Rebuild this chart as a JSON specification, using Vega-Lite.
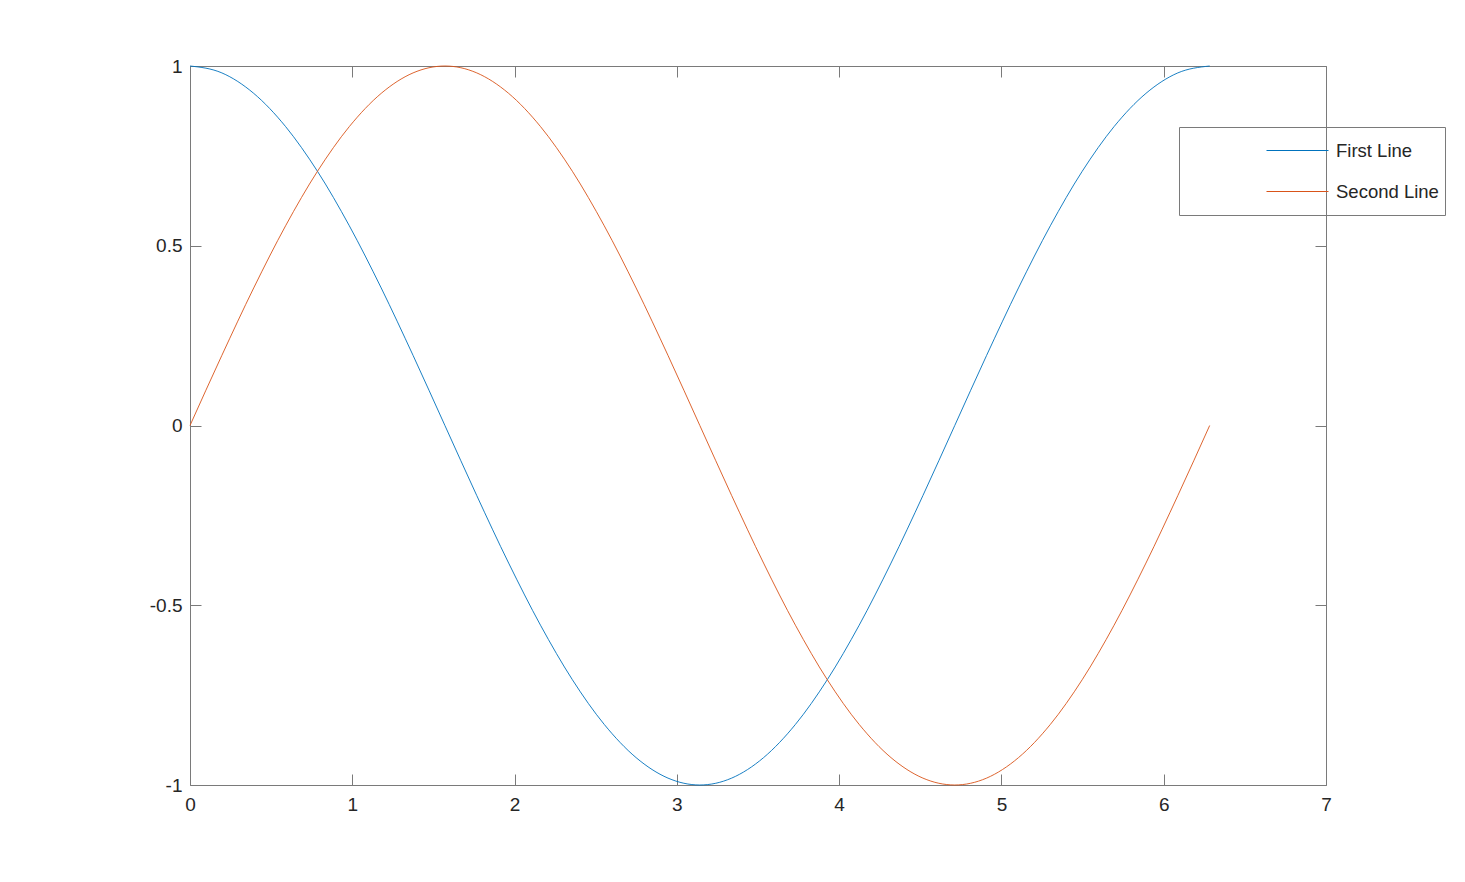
{
  "$schema": "https://vega.github.io/schema/vega-lite/v6.json",
  "autosize": {"type": "none"},
  "width": 1136,
  "height": 719,
  "padding": {"left": 190, "top": 66, "right": 139, "bottom": 97},
  "background": "white",
  "config": {
    "view": {"stroke": "#7a7a7a", "strokeWidth": 1},
    "font": "Liberation Sans",
    "axis": {
      "grid": false,
      "domain": false,
      "tickColor": "#7a7a7a",
      "tickSize": -11,
      "labelColor": "#262626",
      "labelFontSize": 19,
      "labelFont": "Liberation Sans",
      "labelFlush": false,
      "labelExpr": "datum.value + ''",
      "title": null
    }
  },
  "data": {
    "values": [
      {"x": 0, "First Line": 1, "Second Line": 0},
      {"x": 0.19635, "First Line": 0.98079, "Second Line": 0.19509},
      {"x": 0.3927, "First Line": 0.92388, "Second Line": 0.38268},
      {"x": 0.58905, "First Line": 0.83147, "Second Line": 0.55557},
      {"x": 0.7854, "First Line": 0.70711, "Second Line": 0.70711},
      {"x": 0.98175, "First Line": 0.55557, "Second Line": 0.83147},
      {"x": 1.1781, "First Line": 0.38268, "Second Line": 0.92388},
      {"x": 1.37445, "First Line": 0.19509, "Second Line": 0.98079},
      {"x": 1.5708, "First Line": 0, "Second Line": 1},
      {"x": 1.76715, "First Line": -0.19509, "Second Line": 0.98079},
      {"x": 1.9635, "First Line": -0.38268, "Second Line": 0.92388},
      {"x": 2.15984, "First Line": -0.55557, "Second Line": 0.83147},
      {"x": 2.35619, "First Line": -0.70711, "Second Line": 0.70711},
      {"x": 2.55254, "First Line": -0.83147, "Second Line": 0.55557},
      {"x": 2.74889, "First Line": -0.92388, "Second Line": 0.38268},
      {"x": 2.94524, "First Line": -0.98079, "Second Line": 0.19509},
      {"x": 3.14159, "First Line": -1, "Second Line": 0},
      {"x": 3.33794, "First Line": -0.98079, "Second Line": -0.19509},
      {"x": 3.53429, "First Line": -0.92388, "Second Line": -0.38268},
      {"x": 3.73064, "First Line": -0.83147, "Second Line": -0.55557},
      {"x": 3.92699, "First Line": -0.70711, "Second Line": -0.70711},
      {"x": 4.12334, "First Line": -0.55557, "Second Line": -0.83147},
      {"x": 4.31969, "First Line": -0.38268, "Second Line": -0.92388},
      {"x": 4.51604, "First Line": -0.19509, "Second Line": -0.98079},
      {"x": 4.71239, "First Line": 0, "Second Line": -1},
      {"x": 4.90874, "First Line": 0.19509, "Second Line": -0.98079},
      {"x": 5.10509, "First Line": 0.38268, "Second Line": -0.92388},
      {"x": 5.30144, "First Line": 0.55557, "Second Line": -0.83147},
      {"x": 5.49779, "First Line": 0.70711, "Second Line": -0.70711},
      {"x": 5.69414, "First Line": 0.83147, "Second Line": -0.55557},
      {"x": 5.89049, "First Line": 0.92388, "Second Line": -0.38268},
      {"x": 6.08684, "First Line": 0.98079, "Second Line": -0.19509},
      {"x": 6.28319, "First Line": 1, "Second Line": 0}
    ]
  },
  "transform": [
    {"fold": ["First Line", "Second Line"], "as": ["series", "y"]}
  ],
  "layer": [
    {
      "mark": {"type": "line", "strokeWidth": 0.9, "interpolate": "monotone"},
      "encoding": {
        "x": {
          "field": "x",
          "type": "quantitative",
          "scale": {"domain": [0, 7], "nice": false, "zero": false},
          "axis": {"orient": "bottom", "values": [0, 1, 2, 3, 4, 5, 6, 7], "labelPadding": 21}
        },
        "y": {
          "field": "y",
          "type": "quantitative",
          "scale": {"domain": [-1, 1], "nice": false, "zero": false},
          "axis": {"orient": "left", "values": [-1, -0.5, 0, 0.5, 1], "labelPadding": 19}
        },
        "color": {
          "field": "series",
          "type": "nominal",
          "scale": {"domain": ["First Line", "Second Line"], "range": ["#0072BD", "#D95319"]},
          "legend": {
            "title": null,
            "orient": "none",
            "legendX": 989,
            "legendY": 61,
            "symbolType": "stroke",
            "symbolSize": 3844,
            "symbolStrokeWidth": 1,
            "symbolOffset": 81.5,
            "clipHeight": 36,
            "labelFontSize": 18.5,
            "labelFont": "Liberation Sans",
            "labelColor": "#262626",
            "labelOffset": 7,
            "strokeColor": "#7a7a7a",
            "padding": 5.5,
            "rowPadding": 5,
            "encode": {
              "symbols": {"update": {"stroke": {"scale": "color", "field": "value"}, "opacity": {"value": 1}}}
            }
          }
        }
      }
    },
    {
      "mark": {"type": "line", "opacity": 0},
      "encoding": {
        "x": {
          "field": "x",
          "type": "quantitative",
          "axis": {"orient": "top", "values": [0, 1, 2, 3, 4, 5, 6, 7], "labels": false}
        },
        "y": {
          "field": "y",
          "type": "quantitative",
          "axis": {"orient": "right", "values": [-1, -0.5, 0, 0.5, 1], "labels": false}
        },
        "detail": {"field": "series"}
      }
    }
  ]
}
